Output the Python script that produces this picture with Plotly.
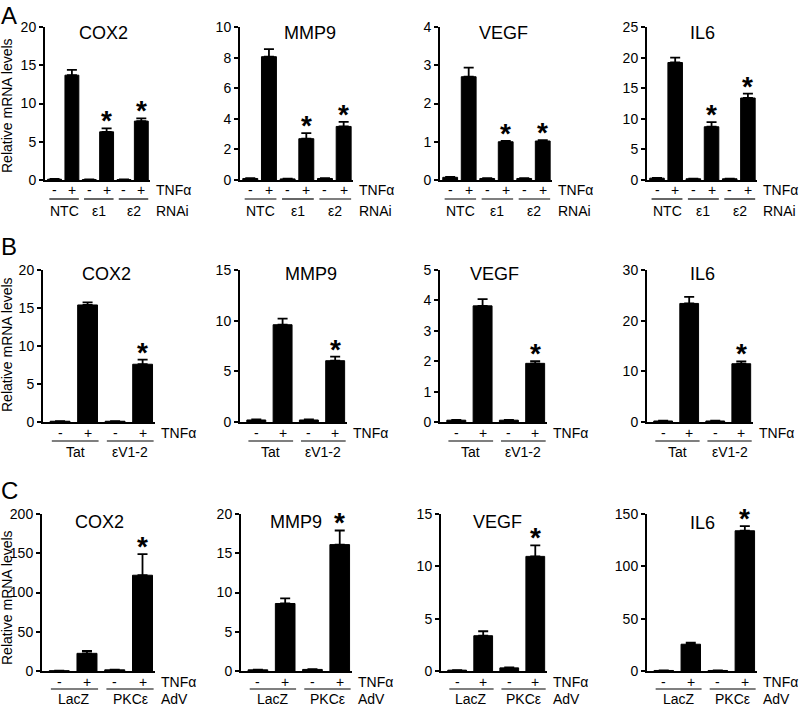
import plotly.graph_objects as go

W, H = 800, 706

genes = ["COX2", "MMP9", "VEGF", "IL6"]

# Panel A (RNAi)
tnf_A = ["-", "+", "-", "+", "-", "+"]
groups_A = ["NTC", "ε1", "ε2"]
a_cox2 = [0.1, 13.7, 0.05, 6.3, 0.05, 7.7]
a_cox2_err = [0.03, 0.7, 0.02, 0.45, 0.02, 0.35]
a_mmp9 = [0.1, 8.06, 0.07, 2.7, 0.1, 3.5]
a_mmp9_err = [0.02, 0.5, 0.02, 0.37, 0.02, 0.3]
a_vegf = [0.07, 2.7, 0.04, 1.0, 0.04, 1.02]
a_vegf_err = [0.01, 0.24, 0.01, 0.02, 0.01, 0.02]
a_il6 = [0.3, 19.2, 0.2, 8.7, 0.2, 13.4]
a_il6_err = [0.05, 0.8, 0.02, 0.75, 0.02, 0.7]

# Panel B (peptide)
tnf_B = ["-", "+", "-", "+"]
groups_B = ["Tat", "εV1-2"]
b_cox2 = [0.1, 15.4, 0.1, 7.6]
b_cox2_err = [0.02, 0.35, 0.02, 0.6]
b_mmp9 = [0.2, 9.6, 0.2, 6.05]
b_mmp9_err = [0.05, 0.6, 0.05, 0.4]
b_vegf = [0.06, 3.82, 0.06, 1.93]
b_vegf_err = [0.01, 0.22, 0.01, 0.07]
b_il6 = [0.2, 23.4, 0.2, 11.5]
b_il6_err = [0.05, 1.3, 0.05, 0.45]

# Panel C (adenovirus)
tnf_C = ["-", "+", "-", "+"]
groups_C = ["LacZ", "PKCε"]
c_cox2 = [0.3, 22.5, 1.5, 122]
c_cox2_err = [0.05, 3, 0.2, 27]
c_mmp9 = [0.15, 8.6, 0.2, 16.1]
c_mmp9_err = [0.02, 0.65, 0.02, 1.8]
c_vegf = [0.08, 3.37, 0.3, 10.95]
c_vegf_err = [0.01, 0.43, 0.05, 1.05]
c_il6 = [0.5, 25.6, 0.5, 134]
c_il6_err = [0.05, 1.4, 0.05, 4.5]

star_A = [3, 5]
star_B = [3]
star_C = [3]

yranges = [[20, 10, 4, 25], [20, 15, 5, 30], [200, 20, 15, 150]]
ydticks = [[5, 2, 1, 5], [5, 5, 1, 10], [50, 5, 5, 50]]

rows = [
    dict(letter="A", vals=[a_cox2, a_mmp9, a_vegf, a_il6],
         errs=[a_cox2_err, a_mmp9_err, a_vegf_err, a_il6_err],
         tnf=tnf_A, groups=groups_A, stars=star_A, suffix="RNAi",
         top=27, bottom=180, pm=190, ul=199, gl=211, letter_y=0,
         letter_anchor="top", ytl=106,
         cols=[(45, 150), (240, 353), (440, 552), (647, 757)],
         titles=[(103, 33), (310, 33), (503, 33), (702, 33)],
         xr=[0.45, 6.5], bw=0.8),
    dict(letter="B", vals=[b_cox2, b_mmp9, b_vegf, b_il6],
         errs=[b_cox2_err, b_mmp9_err, b_vegf_err, b_il6_err],
         tnf=tnf_B, groups=groups_B, stars=star_B, suffix=None,
         top=270, bottom=422, pm=433, ul=441, gl=452, letter_y=262,
         letter_anchor="bottom", ytl=345,
         cols=[(43, 155), (240, 347), (440, 547), (647, 753)],
         titles=[(106, 274), (311, 274), (494, 274), (702, 274)],
         xr=[0.38, 4.45], bw=0.72),
    dict(letter="C", vals=[c_cox2, c_mmp9, c_vegf, c_il6],
         errs=[c_cox2_err, c_mmp9_err, c_vegf_err, c_il6_err],
         tnf=tnf_C, groups=groups_C, stars=star_C, suffix="AdV",
         top=514, bottom=671, pm=682, ul=689, gl=699, letter_y=506,
         letter_anchor="bottom", ytl=598,
         cols=[(42, 155), (241, 352), (441, 547), (647, 757)],
         titles=[(99, 522), (296, 522), (497, 522), (702, 523)],
         xr=[0.38, 4.45], bw=0.72),
]

FONT = "Liberation Sans, Arial, sans-serif"

def px(x):
    return x / W

def py(y):
    return 1 - y / H

fig = go.Figure()
layout = dict(width=W, height=H,
              margin=dict(l=0, r=0, t=0, b=0, pad=0, autoexpand=False),
              paper_bgcolor="white", plot_bgcolor="white", showlegend=False,
              font=dict(family=FONT, size=14, color="black"))
annotations = []
shapes = []

n = 0
for r, row in enumerate(rows):
    for c in range(4):
        n += 1
        xa = "x" if n == 1 else f"x{n}"
        ya = "y" if n == 1 else f"y{n}"
        xkey = "xaxis" if n == 1 else f"xaxis{n}"
        ykey = "yaxis" if n == 1 else f"yaxis{n}"
        vals = row["vals"][c]
        errs = row["errs"][c]
        xs = list(range(1, len(vals) + 1))
        fig.add_trace(go.Bar(
            x=xs, y=vals, xaxis=xa, yaxis=ya, width=row["bw"],
            marker=dict(color="black", line=dict(color="black", width=1)),
            error_y=dict(type="data", array=errs, arrayminus=[0] * len(errs),
                         symmetric=False, color="black", thickness=1.8, width=5),
        ))
        x0, x1 = row["cols"][c]
        layout[xkey] = dict(domain=[px(x0), px(x1)], range=row["xr"], anchor=ya,
                            showline=True, linecolor="black", linewidth=2,
                            showticklabels=False, ticks="", showgrid=False,
                            zeroline=False, fixedrange=True, automargin=False)
        layout[ykey] = dict(domain=[py(row["bottom"]), py(row["top"])],
                            range=[0, yranges[r][c]], dtick=ydticks[r][c],
                            anchor=xa, showline=True, linecolor="black",
                            linewidth=2, ticks="outside", ticklen=4,
                            tickwidth=2, tickcolor="black", showgrid=False,
                            zeroline=False, tickfont=dict(size=14, family=FONT),
                            fixedrange=True, automargin=False)
        # title
        tx, ty = row["titles"][c]
        annotations.append(dict(text=genes[c], x=px(tx), y=py(ty), xref="paper",
                                yref="paper", showarrow=False, xanchor="center",
                                yanchor="middle", font=dict(size=18)))
        # - / + labels
        for i, t in enumerate(row["tnf"]):
            annotations.append(dict(text=t, x=xs[i], y=py(row["pm"]), xref=xa,
                                    yref="paper", showarrow=False,
                                    xanchor="center", yanchor="middle",
                                    font=dict(size=14)))
        annotations.append(dict(text="TNFα", x=px(x1 + 4), y=py(row["pm"]),
                                xref="paper", yref="paper", showarrow=False,
                                xanchor="left", yanchor="middle",
                                font=dict(size=14)))
        # group underline + labels
        for g, name in enumerate(row["groups"]):
            g1, g2 = xs[2 * g], xs[2 * g + 1]
            l0, l1 = g1 - 0.3, g2 + 0.4
            shapes.append(dict(type="line", xref=xa, yref="paper", x0=l0, x1=l1,
                               y0=py(row["ul"]), y1=py(row["ul"]),
                               line=dict(color="black", width=1.2)))
            annotations.append(dict(text=name, x=(l0 + l1) / 2, y=py(row["gl"]),
                                    xref=xa, yref="paper", showarrow=False,
                                    xanchor="center", yanchor="middle",
                                    font=dict(size=14)))
        if row["suffix"]:
            annotations.append(dict(text=row["suffix"], x=px(x1 + 4),
                                    y=py(row["gl"]), xref="paper", yref="paper",
                                    showarrow=False, xanchor="left",
                                    yanchor="middle", font=dict(size=14)))
        # asterisks
        for i in row["stars"]:
            annotations.append(dict(text="<b>*</b>", x=xs[i], y=vals[i] + errs[i],
                                    xref=xa, yref=ya, showarrow=False,
                                    xanchor="center", yanchor="bottom",
                                    yshift=-10, font=dict(size=28)))
    # y-axis title for row
    annotations.append(dict(text="Relative mRNA levels", x=px(7),
                            y=py(row["ytl"]),
                            xref="paper", yref="paper", showarrow=False,
                            textangle=-90, xanchor="center", yanchor="middle",
                            font=dict(size=14)))
    annotations.append(dict(text=row["letter"], x=px(9), y=py(row["letter_y"]),
                            xref="paper", yref="paper", showarrow=False,
                            xanchor="center", yanchor=row["letter_anchor"],
                            font=dict(size=24)))

layout["annotations"] = annotations
layout["shapes"] = shapes
fig.update_layout(**layout)
fig.write_html("out.html",
               config={"displayModeBar": False},
               post_script="document.body.style.margin='0';"
                           "document.body.style.overflow='hidden';")
